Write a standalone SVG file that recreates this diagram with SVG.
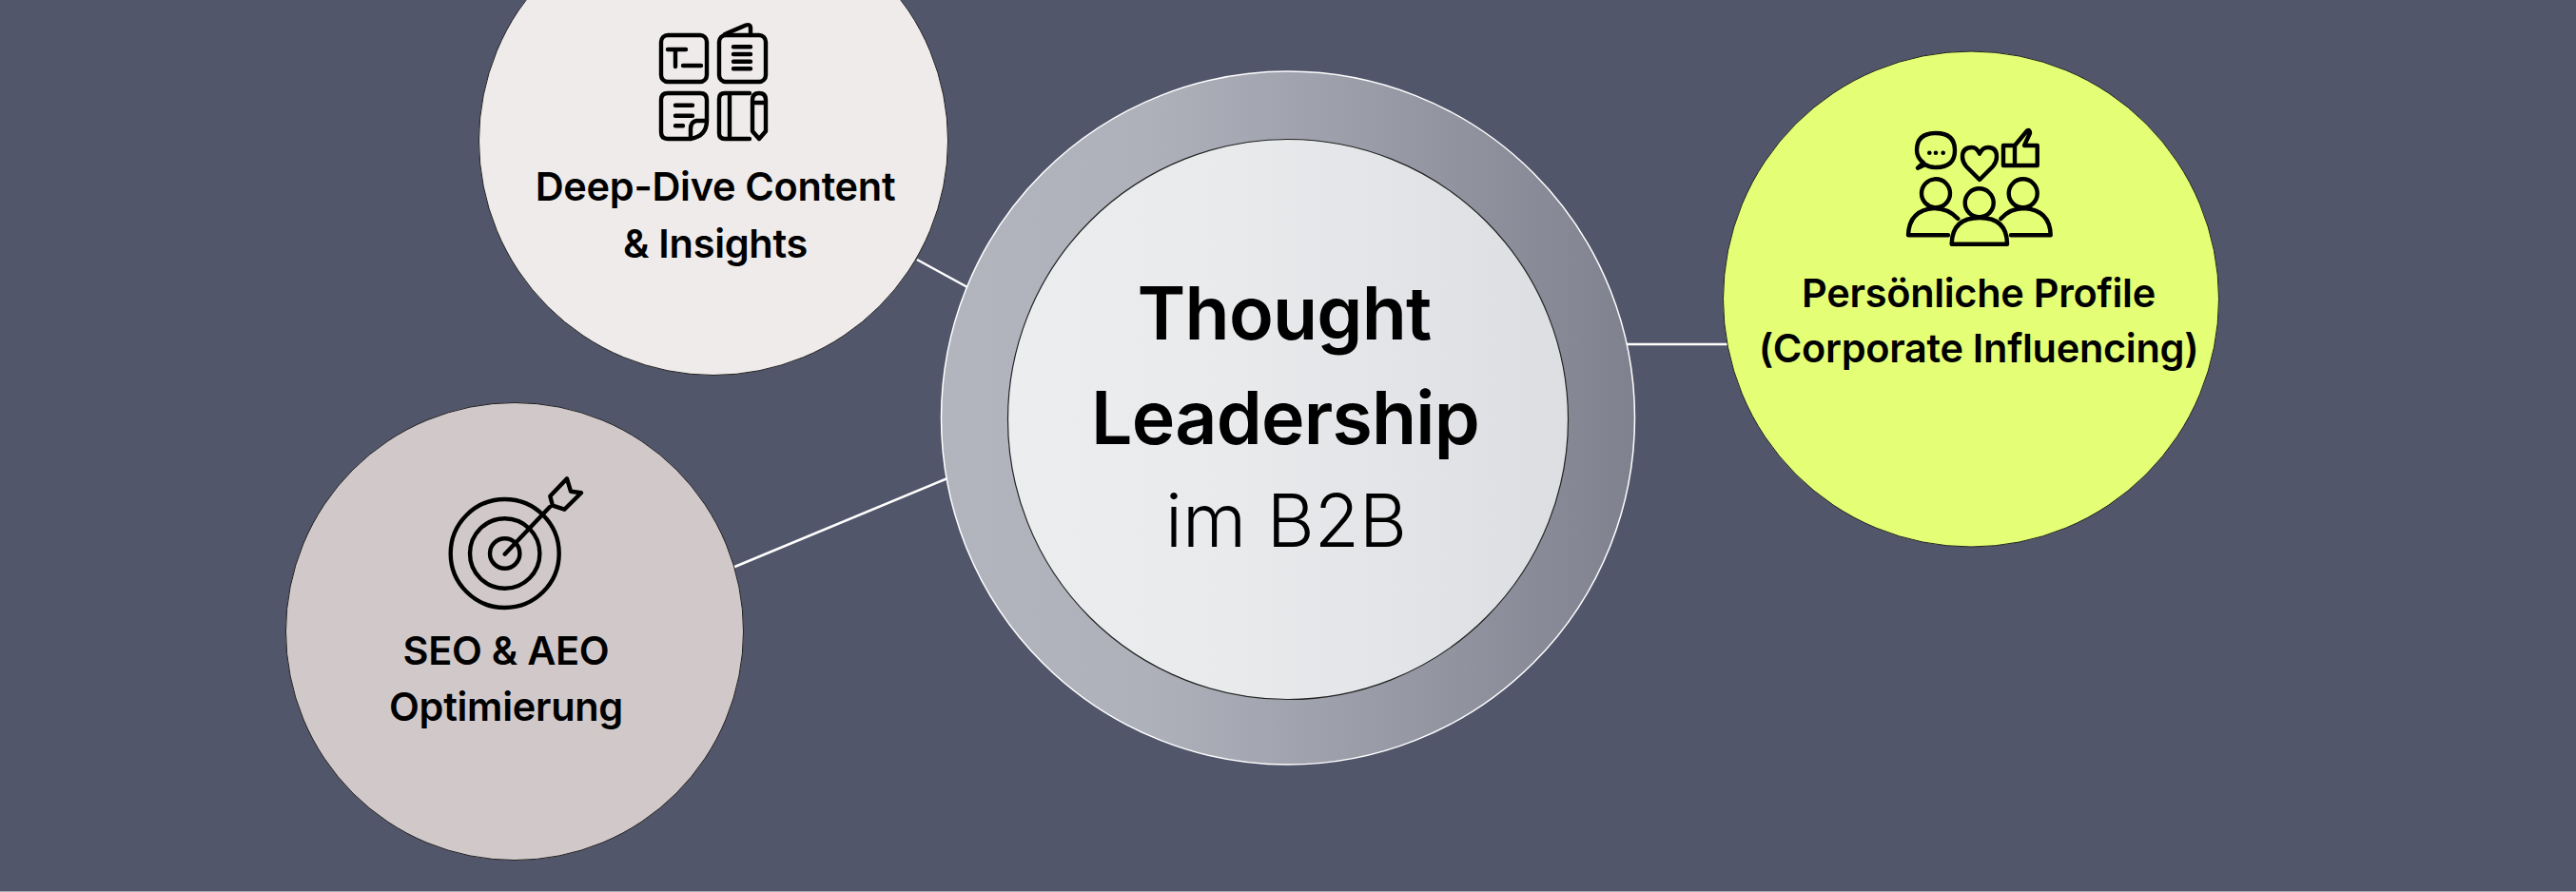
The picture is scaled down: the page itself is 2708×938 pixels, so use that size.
<svg xmlns="http://www.w3.org/2000/svg" width="2708" height="938" viewBox="0 0 2708 938">
<style>
.t{font-family:"Inter","Liberation Sans",sans-serif;text-anchor:middle;fill:#000}
.s{font-size:41.500px;font-weight:600;letter-spacing:-0.3px}
.b{font-size:77px;font-weight:600;letter-spacing:-0.8px}
.l{font-size:77px;font-weight:300}
.i{fill:none;stroke:#000;stroke-width:4.400;stroke-linecap:round;stroke-linejoin:round}
.c{stroke:#fff;stroke-width:2.500;fill:none}
</style>
<defs>
<linearGradient id="ro" x1="0" x2="1" y1="0" y2="0"><stop offset="0" stop-color="#b2b5be"/><stop offset="0.3" stop-color="#aeb0ba"/><stop offset="0.6" stop-color="#9b9da9"/><stop offset="1" stop-color="#7f828e"/></linearGradient>
<linearGradient id="ri" x1="0" x2="1" y1="0" y2="0"><stop offset="0" stop-color="#ecedef"/><stop offset="0.4" stop-color="#e9eaec"/><stop offset="1" stop-color="#dcdee2"/></linearGradient>
</defs>
<rect width="2708" height="938" fill="#52566a"/>
<rect y="937" width="2708" height="1" fill="#a8aab5"/>
<g id="connectors">
<path class="c" d="M964 273L1017 302"/>
<path class="c" d="M770 597L996 503"/>
<path class="c" d="M1710 362L1817 362"/>
</g>
<g id="node-deep-dive">
<circle cx="750" cy="148" r="246.500" fill="#eeebea" stroke="#222" stroke-width="1"/>
<g class="i">
<rect x="695" y="37" width="48" height="49" rx="7"/>
<path d="M702 52H721M710 52V70M718 69H737"/>
<rect x="756" y="37" width="49" height="49" rx="7"/>
<path d="M762 36L784 26.500Q789 25 789 29V37M771 49.300H789M771 57H789M771 64.700H789M771 72.300H789"/>
<path d="M743 127V105Q743 98 736 98H702Q695 98 695 105V139Q695 146 702 146H726Q743 143 743 127H732Q726 128 726 136V146M710 110.700H728M710 121.700H728M710 132.300H718"/>
<path d="M788 98H762Q756 98 756 104V140Q756 146 762 146H788M767 98V146"/>
<path d="M791 108V138L798 146L805 138V105Q805 98 798 98Q791 98 791 105V108H805"/>
</g>
<text class="t s" x="752" y="211">Deep-Dive Content</text>
<text class="t s" x="752" y="270.500">&amp; Insights</text>
</g>
<g id="node-seo">
<circle cx="541" cy="664" r="240.500" fill="#d1c9c9" stroke="#222" stroke-width="1"/>
<g class="i">
<circle cx="530.700" cy="582" r="57"/>
<circle cx="530.700" cy="582" r="36.700"/>
<circle cx="530.700" cy="582" r="15.700"/>
<path d="M530.700 582.700L578 533M578.300 521.700L596 503.300L600 516.700L611 518.300L593.300 535.700L581 531.700Z"/>
</g>
<text class="t s" x="532" y="699">SEO &amp; AEO</text>
<text class="t s" x="532" y="758">Optimierung</text>
</g>
<g id="node-center">
<circle cx="1354" cy="439.500" r="364.500" fill="url(#ro)" stroke="#fff" stroke-width="1.500"/>
<circle cx="1354" cy="441" r="294.500" fill="url(#ri)" stroke="#222" stroke-width="1.200"/>
<text class="t b" x="1350" y="357">Thought</text>
<text class="t b" x="1351" y="467">Leadership</text>
<text class="t l" x="1352" y="575">im B2B</text>
</g>
<g id="node-profile">
<circle cx="2072" cy="314.500" r="260.500" fill="#e4ff75" stroke="#222" stroke-width="1"/>
<g class="i">
<path d="M2016 176.700L2022 171Q2015 166 2015 158Q2015 140 2035 140Q2055 140 2055 158Q2055 176 2035 176Q2028 176 2024 173Z"/>
<path d="M2081 189L2067 175Q2063 170 2063 165Q2063 155 2073 155Q2078 155 2081 161.700Q2084 155 2090 155Q2099 155 2099 165Q2099 170 2095 175Z"/>
<path d="M2106 153H2118V174H2106ZM2118 153L2131 137.500Q2134 136 2134 140L2128 153H2141.700V174H2118"/>
<circle cx="2035" cy="203.300" r="15"/>
<circle cx="2126.700" cy="203.300" r="15"/>
<circle cx="2080.700" cy="213.300" r="15"/>
<path d="M2051.700 256.700Q2052 229 2081 229Q2110 229 2110 256.700Z"/>
<path d="M2058.300 230Q2048 219 2033 219Q2007 221 2006 247.300H2048"/>
<path d="M2103.300 230Q2113 219 2128 219Q2155 221 2155.700 247.300H2114"/>
</g>
<g fill="#000"><circle cx="2028.300" cy="160.700" r="2.300"/><circle cx="2035" cy="160.700" r="2.300"/><circle cx="2042.700" cy="160.700" r="2.300"/></g>
<text class="t s" x="2080" y="322.500">Persönliche Profile</text>
<text class="t s" x="2080" y="381">(Corporate Influencing)</text>
</g>
</svg>
